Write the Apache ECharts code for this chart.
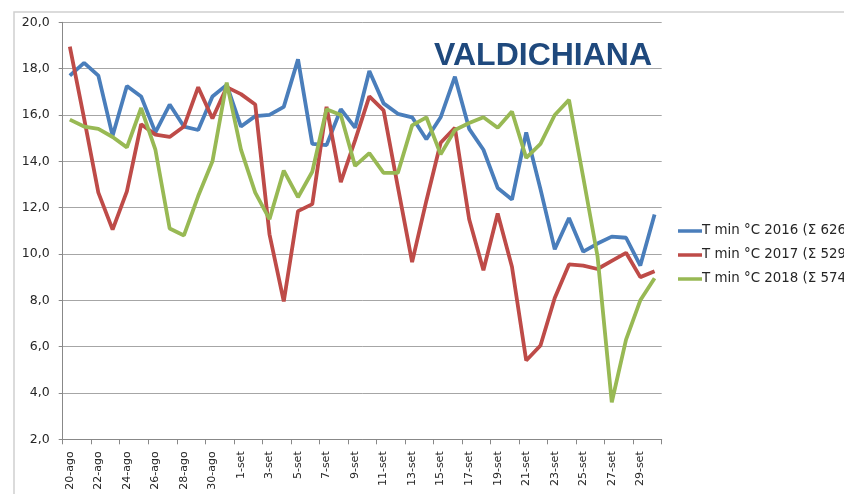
<!DOCTYPE html>
<html>
<head>
<meta charset="utf-8">
<script src="https://cdn.jsdelivr.net/npm/echarts@6/dist/echarts.min.js"></script>
<style>
  html, body { margin: 0; padding: 0; background: #fff; }
  #chart { width: 844px; height: 494px; }
</style>
</head>
<body>
<div id="chart"></div>
<script>
// giorni 20-ago .. 30-set
var days = ['20-ago', '21-ago', '22-ago', '23-ago', '24-ago', '25-ago', '26-ago', '27-ago', '28-ago', '29-ago', '30-ago', '31-ago',
  '1-set', '2-set', '3-set', '4-set', '5-set', '6-set', '7-set', '8-set', '9-set', '10-set',
  '11-set', '12-set', '13-set', '14-set', '15-set', '16-set', '17-set', '18-set', '19-set', '20-set',
  '21-set', '22-set', '23-set', '24-set', '25-set', '26-set', '27-set', '28-set', '29-set', '30-set'];

var names = ['T min °C 2016 (Σ 626)', 'T min °C 2017 (Σ 529)', 'T min °C 2018 (Σ 574)'];

var tmin2016 = [17.7, 18.25, 17.7, 15.1, 17.25, 16.8, 15.25, 16.45, 15.5, 15.35, 16.8, 17.3,
  15.5, 15.95, 16.0, 16.35, 18.4, 14.75, 14.7, 16.25, 15.45, 17.9,
  16.5, 16.05, 15.9, 14.95, 15.9, 17.65, 15.4, 14.5, 12.85, 12.35,
  15.25, 12.8, 10.2, 11.55, 10.1, 10.45, 10.75, 10.7, 9.5, 11.7];

var tmin2017 = [18.95, 15.85, 12.65, 11.05, 12.7, 15.6, 15.15, 15.05, 15.5, 17.2, 15.85, 17.2,
  16.9, 16.45, 10.85, 7.95, 11.85, 12.15, 16.35, 13.1, 14.9, 16.8,
  16.2, 12.9, 9.65, 12.3, 14.8, 15.45, 11.5, 9.3, 11.75, 9.45,
  5.4, 6.05, 8.1, 9.55, 9.5, 9.35, 9.7, 10.05, 9.0, 9.25];

var tmin2018 = [15.8, 15.5, 15.4, 15.05, 14.6, 16.3, 14.5, 11.1, 10.8, 12.5, 14.0, 17.4,
  14.5, 12.65, 11.5, 13.6, 12.45, 13.55, 16.25, 16.0, 13.8, 14.35,
  13.5, 13.5, 15.55, 15.9, 14.3, 15.35, 15.65, 15.9, 15.45, 16.15,
  14.15, 14.75, 16.0, 16.65, 13.3, 9.9, 3.6, 6.3, 8.0, 8.95];

var colors = ['#4a7ebb', '#be4b48', '#98b954'];

var chart = echarts.init(document.getElementById('chart'), null, { renderer: 'canvas' });

function serie(i, data) {
  return {
    name: names[i],
    type: 'line',
    data: data,
    symbol: 'none',
    lineStyle: { color: colors[i], width: 3.8 },
    itemStyle: { color: colors[i] },
    animation: false
  };
}

var option = {
  animation: false,
  backgroundColor: '#fff',
  title: {
    text: 'VALDICHIANA',
    left: 434,
    top: 40,
    padding: 0,
    textStyle: {
      fontFamily: 'Liberation Sans',
      fontWeight: 'bold',
      fontSize: 32,
      color: '#1f497d'
    }
  },
  legend: {
    orient: 'vertical',
    left: 678,
    top: 223,
    padding: 0,
    icon: 'rect',
    itemWidth: 24,
    itemHeight: 3.5,
    itemGap: 8,
    textStyle: { fontFamily: 'DejaVu Sans', fontSize: 13.4, lineHeight: 16, color: '#262626', padding: [0, 0, 0, -5] },
    data: names
  },
  grid: {
    left: 62.7,
    right: 182.3,
    top: 22.3,
    bottom: 54.7,
    containLabel: false
  },
  xAxis: {
    type: 'category',
    data: days,
    boundaryGap: true,
    axisLine: { lineStyle: { color: '#888', width: 1 } },
    axisTick: { show: true, interval: 1, length: 5, lineStyle: { color: '#888' } },
    axisLabel: {
      interval: 1,
      rotate: 90,
      margin: 12,
      fontFamily: 'DejaVu Sans',
      fontSize: 11,
      color: '#262626'
    },
    splitLine: { show: false }
  },
  yAxis: {
    type: 'value',
    min: 2,
    max: 20,
    interval: 2,
    axisLine: { show: true, lineStyle: { color: '#888', width: 1 } },
    axisTick: { show: true, length: 4, lineStyle: { color: '#888' } },
    axisLabel: {
      margin: 13,
      fontFamily: 'DejaVu Sans',
      fontSize: 12.5,
      color: '#262626',
      formatter: function (v) { return v.toFixed(1).replace('.', ','); }
    },
    splitLine: { lineStyle: { color: '#a6a6a6', width: 1 } }
  },
  graphic: [{
    type: 'rect',
    left: 11.5,
    top: 9.5,
    shape: { width: 900, height: 600 },
    style: { fill: 'none', stroke: '#d0d0d0', lineWidth: 1.5 },
    silent: true,
    z: -10
  }],
  series: [
    serie(0, tmin2016),
    serie(1, tmin2017),
    serie(2, tmin2018)
  ]
};

chart.setOption(option);
</script>
</body>
</html>
